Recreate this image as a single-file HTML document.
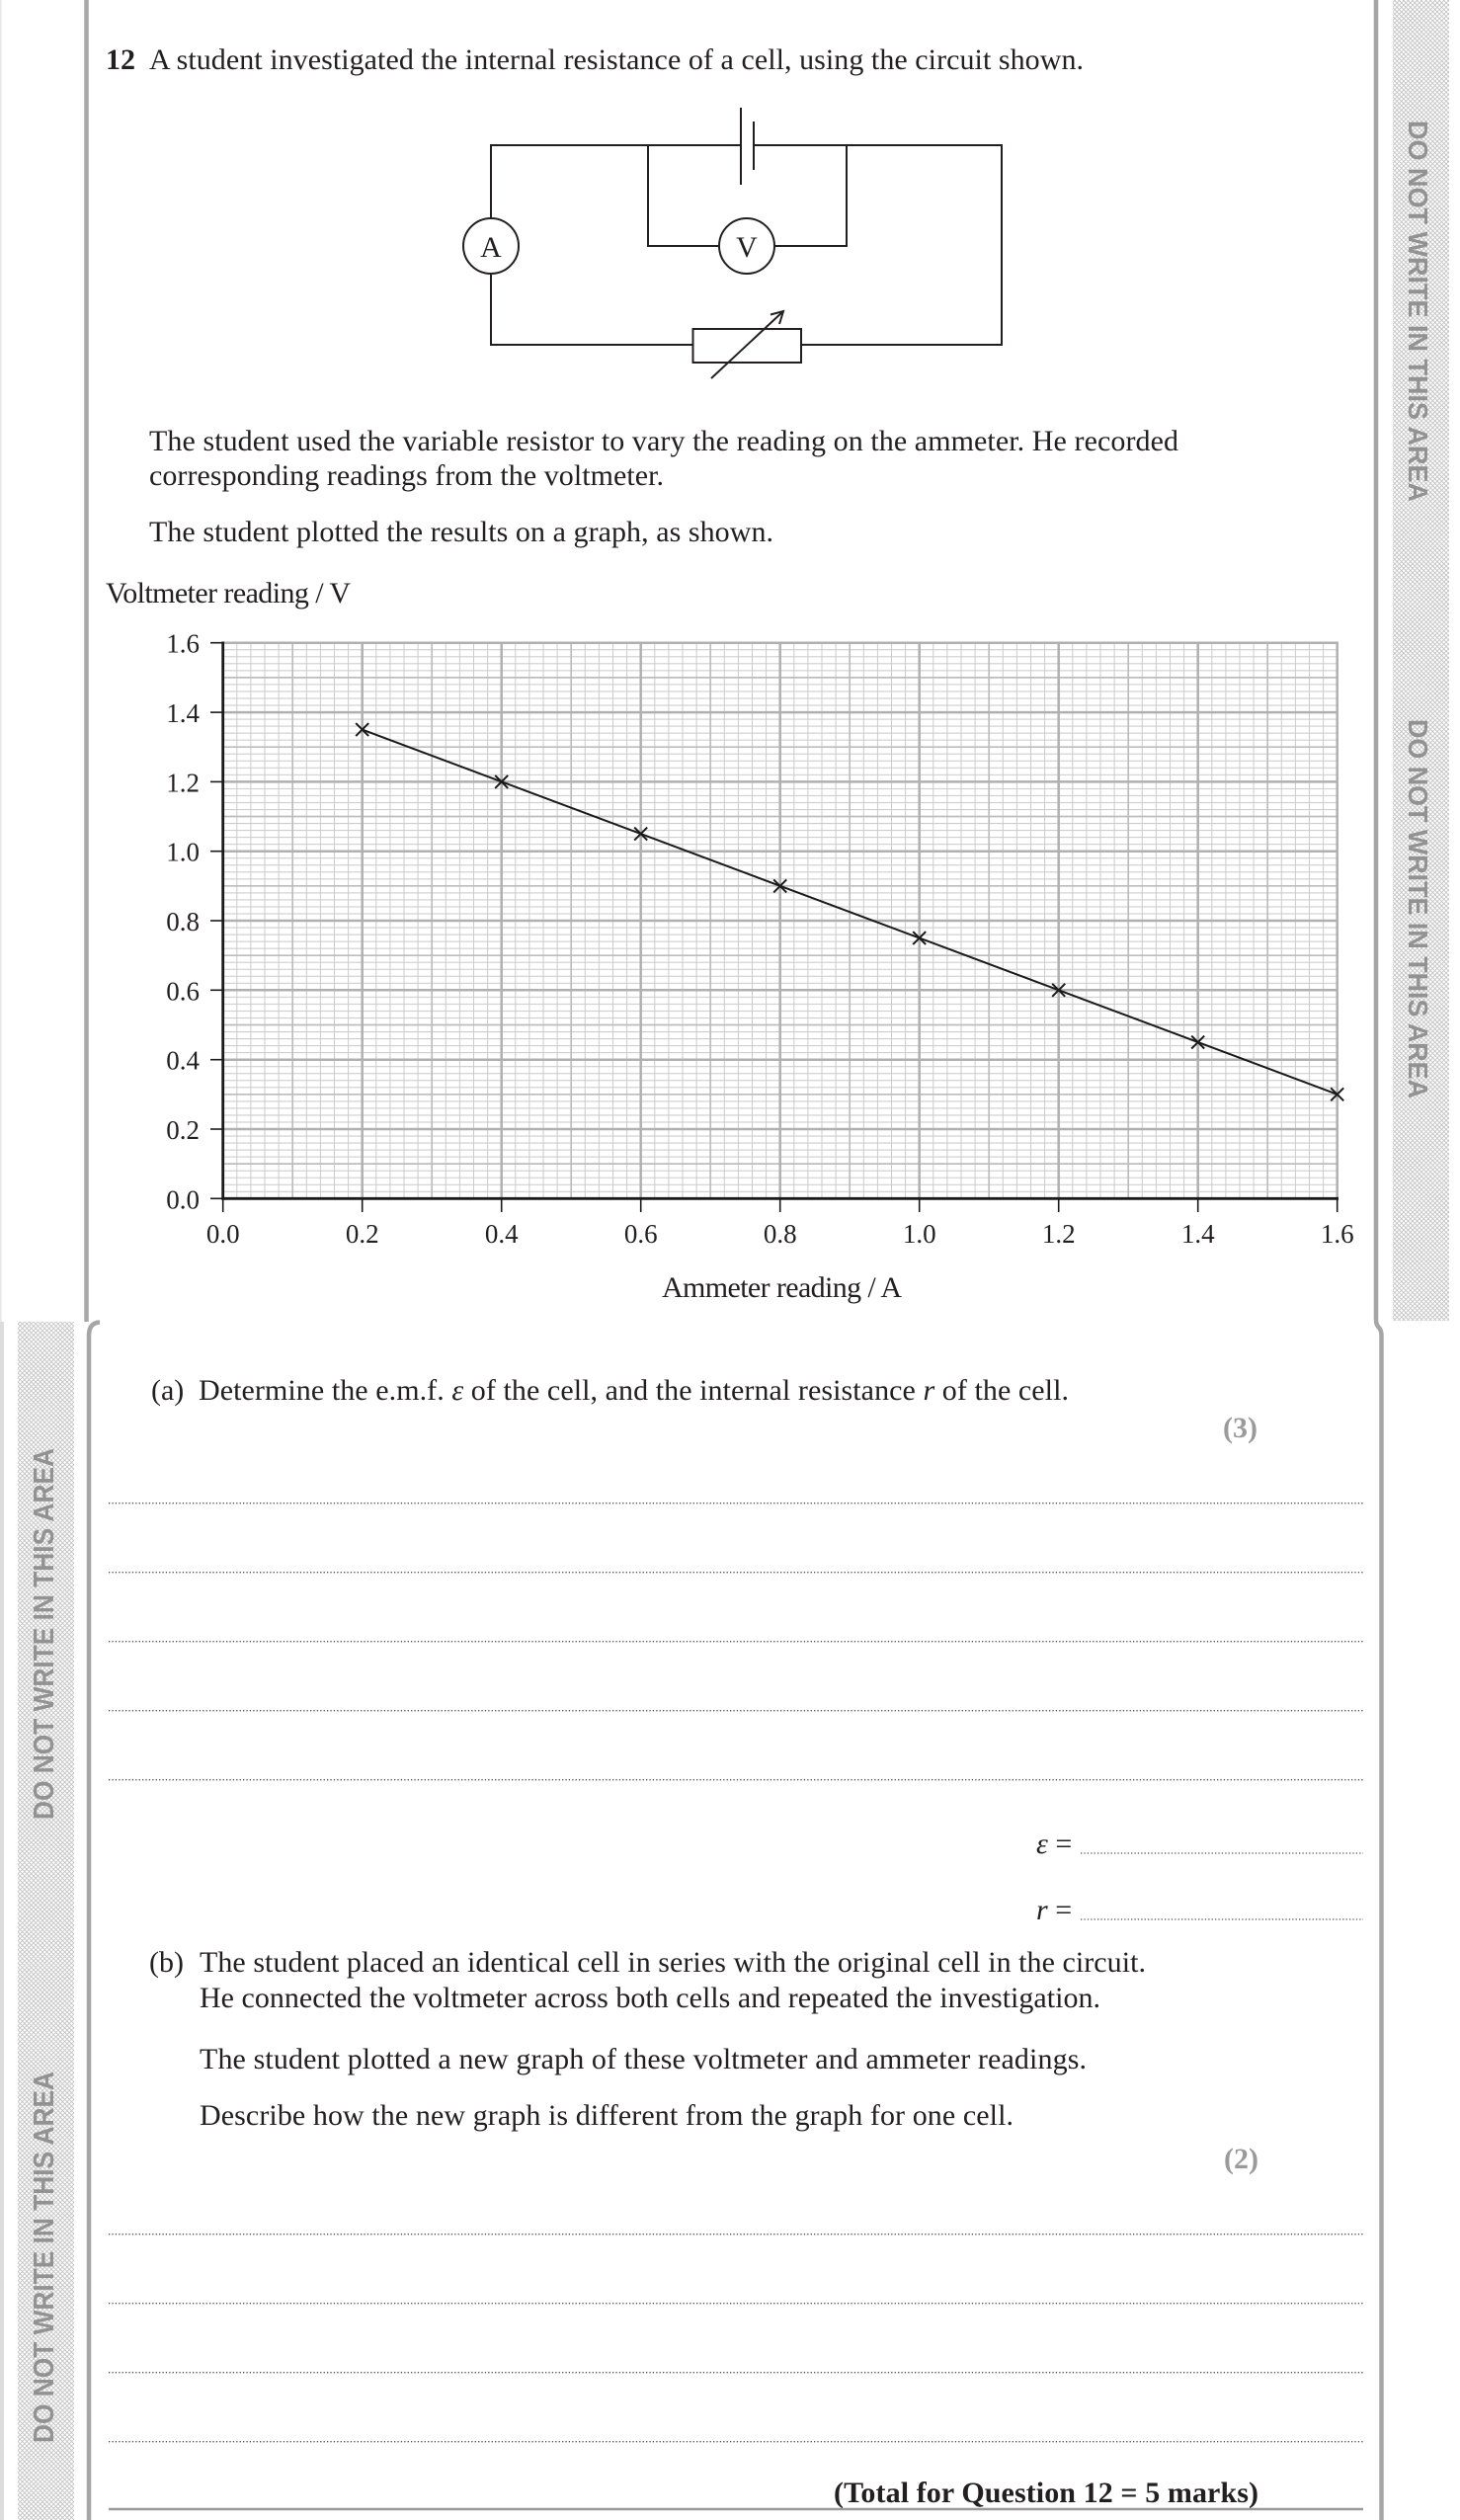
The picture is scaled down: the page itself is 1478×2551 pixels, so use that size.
<!DOCTYPE html>
<html>
<head>
<meta charset="utf-8">
<style>
html,body{margin:0;padding:0;background:#fff;}
svg{display:block;}
text{font-family:"Liberation Serif","Times New Roman",serif;fill:#231f20;}
.side{font-family:"Liberation Sans",Arial,sans-serif;font-weight:bold;fill:#929292;font-size:28px;}
.tk{font-size:27px;}
.b{font-size:30px;}
</style>
</head>
<body>
<svg width="1478" height="2551" viewBox="0 0 1478 2551" xmlns="http://www.w3.org/2000/svg">
<defs>
<pattern id="hatch" width="3.2" height="3.2" patternUnits="userSpaceOnUse" patternTransform="rotate(45)">
<path d="M0 0.4H3.2M0.4 0V3.2" stroke="#bcbcbc" stroke-width="0.75" fill="none"/>
</pattern>
<pattern id="minor" x="225.2" y="650.2" width="14.1" height="7.0325" patternUnits="userSpaceOnUse">
<path d="M0.5 0V7.0325M0 0.5H14.1" stroke="#cbcbcb" stroke-width="1" fill="none"/>
</pattern>
</defs>

<rect x="0" y="0" width="1478" height="2551" fill="#fff"/>

<!-- page borders / sidebars -->
<rect x="0" y="0" width="1.5" height="1338" fill="#e6e6e6"/>
<rect x="0" y="1338" width="4" height="1213" fill="#dcdcdc"/>
<line x1="87.5" y1="0" x2="87.5" y2="1338" stroke="#a8a8a8" stroke-width="4.5"/>
<path d="M101 1338.5 Q90 1339 90 1352 V2551" stroke="#a6a6a6" stroke-width="4.5" fill="none"/>
<path d="M1393 0 V1336 Q1393 1341 1396 1344 Q1398.5 1347 1398.5 1352 V2551" stroke="#a6a6a6" stroke-width="4.5" fill="none"/>

<rect x="1410" y="0" width="57" height="1337" fill="url(#hatch)"/>
<rect x="18" y="1338" width="57" height="1213" fill="url(#hatch)"/>

<text class="side" transform="translate(1426,122) rotate(90)" textLength="386" lengthAdjust="spacingAndGlyphs">DO NOT WRITE IN THIS AREA</text>
<text class="side" transform="translate(1426,728) rotate(90)" textLength="384" lengthAdjust="spacingAndGlyphs">DO NOT WRITE IN THIS AREA</text>
<text class="side" style="font-size:29px" transform="translate(54,1842) rotate(-90)" textLength="376" lengthAdjust="spacingAndGlyphs">DO NOT WRITE IN THIS AREA</text>
<text class="side" style="font-size:29px" transform="translate(54,2473) rotate(-90)" textLength="376" lengthAdjust="spacingAndGlyphs">DO NOT WRITE IN THIS AREA</text>

<!-- question text -->
<text class="b" x="107" y="70" font-weight="bold">12</text>
<text class="b" x="151" y="70" textLength="946" lengthAdjust="spacing">A student investigated the internal resistance of a cell, using the circuit shown.</text>

<!-- circuit -->
<g stroke="#231f20" stroke-width="2" fill="none">
<path d="M750 147 H497 V221 M497 277 V349 H701.5 M811 349 H1014 V147 H763"/>
<path d="M656 147 V249 H728 M784 249 H857 V147"/>
<line x1="750" y1="109" x2="750" y2="187"/>
<line x1="763" y1="123" x2="763" y2="172"/>
<circle cx="497" cy="249" r="28"/>
<circle cx="756" cy="249" r="28"/>
<rect x="701.5" y="333" width="109.5" height="34"/>
<line x1="720" y1="383" x2="793" y2="315"/>
<path d="M780 318.5 L793 315 L789 328"/>
</g>
<text class="b" x="497" y="260" text-anchor="middle">A</text>
<text class="b" x="756" y="260" text-anchor="middle">V</text>

<text class="b" x="151" y="456" textLength="1042" lengthAdjust="spacing">The student used the variable resistor to vary the reading on the ammeter. He recorded</text>
<text class="b" x="151" y="491" textLength="521" lengthAdjust="spacing">corresponding readings from the voltmeter.</text>
<text class="b" x="151" y="548" textLength="632" lengthAdjust="spacing">The student plotted the results on a graph, as shown.</text>

<text class="b" x="107" y="610" textLength="248" lengthAdjust="spacing">Voltmeter reading / V</text>

<!-- graph grid -->
<rect x="225.7" y="650.7" width="1128" height="562.6" fill="url(#minor)"/>
<g stroke="#bdbdbd" stroke-width="1.7">
<line x1="296.2" y1="650.7" x2="296.2" y2="1213.3"/>
<line x1="437.2" y1="650.7" x2="437.2" y2="1213.3"/>
<line x1="578.2" y1="650.7" x2="578.2" y2="1213.3"/>
<line x1="719.2" y1="650.7" x2="719.2" y2="1213.3"/>
<line x1="860.2" y1="650.7" x2="860.2" y2="1213.3"/>
<line x1="1001.2" y1="650.7" x2="1001.2" y2="1213.3"/>
<line x1="1142.2" y1="650.7" x2="1142.2" y2="1213.3"/>
<line x1="1283.2" y1="650.7" x2="1283.2" y2="1213.3"/>
<line x1="225.7" y1="1178.1" x2="1353.7" y2="1178.1"/>
<line x1="225.7" y1="1107.8" x2="1353.7" y2="1107.8"/>
<line x1="225.7" y1="1037.5" x2="1353.7" y2="1037.5"/>
<line x1="225.7" y1="967.2" x2="1353.7" y2="967.2"/>
<line x1="225.7" y1="896.8" x2="1353.7" y2="896.8"/>
<line x1="225.7" y1="826.5" x2="1353.7" y2="826.5"/>
<line x1="225.7" y1="756.2" x2="1353.7" y2="756.2"/>
<line x1="225.7" y1="685.9" x2="1353.7" y2="685.9"/>
</g>
<g stroke="#b0b0b0" stroke-width="2.5">
<line x1="366.7" y1="650.7" x2="366.7" y2="1213.3"/>
<line x1="507.7" y1="650.7" x2="507.7" y2="1213.3"/>
<line x1="648.7" y1="650.7" x2="648.7" y2="1213.3"/>
<line x1="789.7" y1="650.7" x2="789.7" y2="1213.3"/>
<line x1="930.7" y1="650.7" x2="930.7" y2="1213.3"/>
<line x1="1071.7" y1="650.7" x2="1071.7" y2="1213.3"/>
<line x1="1212.7" y1="650.7" x2="1212.7" y2="1213.3"/>
<line x1="1353.7" y1="649.5" x2="1353.7" y2="1213.3"/>
<line x1="225.7" y1="1143.0" x2="1353.7" y2="1143.0"/>
<line x1="225.7" y1="1072.7" x2="1353.7" y2="1072.7"/>
<line x1="225.7" y1="1002.3" x2="1353.7" y2="1002.3"/>
<line x1="225.7" y1="932.0" x2="1353.7" y2="932.0"/>
<line x1="225.7" y1="861.7" x2="1353.7" y2="861.7"/>
<line x1="225.7" y1="791.4" x2="1353.7" y2="791.4"/>
<line x1="225.7" y1="721.1" x2="1353.7" y2="721.1"/>
<line x1="225.7" y1="650.7" x2="1355" y2="650.7"/>
</g>

<!-- axes -->
<g stroke="#1a1a1a">
<line x1="225.7" y1="649.5" x2="225.7" y2="1214.6" stroke-width="2.8"/>
<line x1="224.3" y1="1213.3" x2="1355" y2="1213.3" stroke-width="2.8"/>
<g stroke-width="1.6">
<line x1="213" y1="1213.3" x2="225.7" y2="1213.3"/>
<line x1="213" y1="1143.0" x2="225.7" y2="1143.0"/>
<line x1="213" y1="1072.7" x2="225.7" y2="1072.7"/>
<line x1="213" y1="1002.3" x2="225.7" y2="1002.3"/>
<line x1="213" y1="932.0" x2="225.7" y2="932.0"/>
<line x1="213" y1="861.7" x2="225.7" y2="861.7"/>
<line x1="213" y1="791.4" x2="225.7" y2="791.4"/>
<line x1="213" y1="721.1" x2="225.7" y2="721.1"/>
<line x1="213" y1="650.7" x2="225.7" y2="650.7"/>
<line x1="225.7" y1="1213.3" x2="225.7" y2="1227"/>
<line x1="366.7" y1="1213.3" x2="366.7" y2="1227"/>
<line x1="507.7" y1="1213.3" x2="507.7" y2="1227"/>
<line x1="648.7" y1="1213.3" x2="648.7" y2="1227"/>
<line x1="789.7" y1="1213.3" x2="789.7" y2="1227"/>
<line x1="930.7" y1="1213.3" x2="930.7" y2="1227"/>
<line x1="1071.7" y1="1213.3" x2="1071.7" y2="1227"/>
<line x1="1212.7" y1="1213.3" x2="1212.7" y2="1227"/>
<line x1="1353.7" y1="1213.3" x2="1353.7" y2="1227"/>
</g>
</g>

<!-- tick labels -->
<g text-anchor="end">
<text class="tk" x="202" y="1223.3">0.0</text>
<text class="tk" x="202" y="1153">0.2</text>
<text class="tk" x="202" y="1082.7">0.4</text>
<text class="tk" x="202" y="1012.3">0.6</text>
<text class="tk" x="202" y="942">0.8</text>
<text class="tk" x="202" y="871.7">1.0</text>
<text class="tk" x="202" y="801.4">1.2</text>
<text class="tk" x="202" y="731.1">1.4</text>
<text class="tk" x="202" y="660.7">1.6</text>
</g>
<g text-anchor="middle">
<text class="tk" x="225.7" y="1258">0.0</text>
<text class="tk" x="366.7" y="1258">0.2</text>
<text class="tk" x="507.7" y="1258">0.4</text>
<text class="tk" x="648.7" y="1258">0.6</text>
<text class="tk" x="789.7" y="1258">0.8</text>
<text class="tk" x="930.7" y="1258">1.0</text>
<text class="tk" x="1071.7" y="1258">1.2</text>
<text class="tk" x="1212.7" y="1258">1.4</text>
<text class="tk" x="1353.7" y="1258">1.6</text>
</g>

<!-- data -->
<line x1="366.7" y1="738.6" x2="1353.7" y2="1107.8" stroke="#1a1a1a" stroke-width="2"/>
<g stroke="#1a1a1a" stroke-width="2">
<path d="M360.2 732.1 L373.2 745.1 M360.2 745.1 L373.2 732.1"/>
<path d="M501.2 784.9 L514.2 797.9 M501.2 797.9 L514.2 784.9"/>
<path d="M642.2 837.6 L655.2 850.6 M642.2 850.6 L655.2 837.6"/>
<path d="M783.2 890.4 L796.2 903.4 M783.2 903.4 L796.2 890.4"/>
<path d="M924.2 943.1 L937.2 956.1 M924.2 956.1 L937.2 943.1"/>
<path d="M1065.2 995.8 L1078.2 1008.8 M1065.2 1008.8 L1078.2 995.8"/>
<path d="M1206.2 1048.6 L1219.2 1061.6 M1206.2 1061.6 L1219.2 1048.6"/>
<path d="M1347.2 1101.3 L1360.2 1114.3 M1347.2 1114.3 L1360.2 1101.3"/>
</g>

<text class="b" x="791.5" y="1313" text-anchor="middle" textLength="243" lengthAdjust="spacing">Ammeter reading / A</text>

<!-- part (a) -->
<text class="b" x="153" y="1417">(a)</text>
<text class="b" x="201" y="1417" textLength="881" lengthAdjust="spacing">Determine the e.m.f. <tspan font-style="italic">ε</tspan> of the cell, and the internal resistance <tspan font-style="italic">r</tspan> of the cell.</text>
<text class="b" x="1273" y="1455" text-anchor="end" font-weight="bold" style="fill:#9a9a9a">(3)</text>

<g stroke="#555" stroke-width="1.3" stroke-dasharray="1.3 2.1">
<line x1="110" y1="1521.7" x2="1380" y2="1521.7"/>
<line x1="110" y1="1591.7" x2="1380" y2="1591.7"/>
<line x1="110" y1="1661.7" x2="1380" y2="1661.7"/>
<line x1="110" y1="1731.7" x2="1380" y2="1731.7"/>
<line x1="110" y1="1801.7" x2="1380" y2="1801.7"/>
<line x1="1094" y1="1876" x2="1380" y2="1876"/>
<line x1="1094" y1="1943" x2="1380" y2="1943"/>
<line x1="110" y1="2261.7" x2="1380" y2="2261.7"/>
<line x1="110" y1="2331.7" x2="1380" y2="2331.7"/>
<line x1="110" y1="2401.7" x2="1380" y2="2401.7"/>
<line x1="110" y1="2471.7" x2="1380" y2="2471.7"/>
</g>

<text class="b" x="1049" y="1876"><tspan font-style="italic">ε</tspan> =</text>
<text class="b" x="1049" y="1943"><tspan font-style="italic">r</tspan> =</text>

<!-- part (b) -->
<text class="b" x="151" y="1996">(b)</text>
<text class="b" x="202" y="1996" textLength="958" lengthAdjust="spacing">The student placed an identical cell in series with the original cell in the circuit.</text>
<text class="b" x="202" y="2032" textLength="912" lengthAdjust="spacing">He connected the voltmeter across both cells and repeated the investigation.</text>
<text class="b" x="202" y="2094" textLength="898" lengthAdjust="spacing">The student plotted a new graph of these voltmeter and ammeter readings.</text>
<text class="b" x="202" y="2151" textLength="824" lengthAdjust="spacing">Describe how the new graph is different from the graph for one cell.</text>
<text class="b" x="1274" y="2195" text-anchor="end" font-weight="bold" style="fill:#9a9a9a">(2)</text>

<text class="b" x="844" y="2533" font-weight="bold" textLength="430" lengthAdjust="spacing">(Total for Question 12 = 5 marks)</text>
<line x1="110" y1="2540" x2="1380" y2="2540" stroke="#9a9a9a" stroke-width="2.5"/>
</svg>
</body>
</html>
